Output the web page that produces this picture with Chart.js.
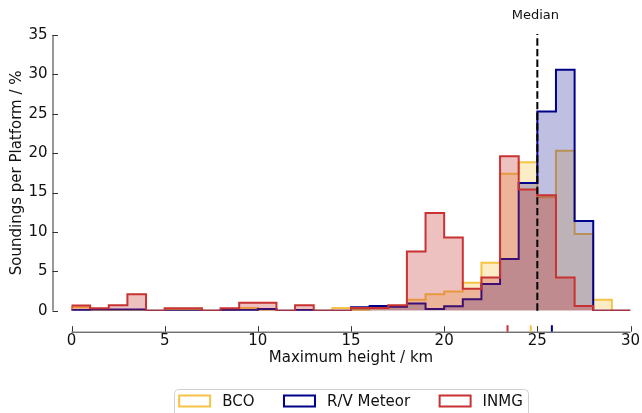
<!DOCTYPE html>
<html>
<head>
<meta charset="utf-8">
<script src="https://cdn.jsdelivr.net/npm/chart.js@4/dist/chart.umd.min.js"></script>
<style>
  html, body { margin: 0; padding: 0; background: #fff; }
  #wrap { width: 642px; height: 413px; }
</style>
</head>
<body>
<div id="wrap"><canvas id="hist"></canvas></div>
<script>
// bin left edges, km (1 km bins from 0 to 30)
var binEdges = [0,1,2,3,4,5,6,7,8,9,10,11,12,13,14,15,16,17,18,19,20,21,22,23,24,25,26,27,28,29];
var binEnd = 30;

// soundings per platform, %
var bco    = [0.45,0,0,0,0,0.1,0.1,0,0,0.35,0,0,0,0,0.35,0.1,0.3,0.6,1.4,2.1,2.45,3.55,6.1,17.4,18.85,14.4,20.3,9.75,1.4,0];
var meteor = [0.1,0.15,0.15,0.15,0,0,0,0,0.1,0.1,0.2,0,0.1,0,0,0.45,0.6,0.5,0.9,0.2,0.55,1.45,3.4,6.55,16.2,25.3,30.6,11.4,0,0];
var inmg   = [0.65,0.3,0.7,2.1,0,0.3,0.3,0,0.3,1.0,1.0,0,0.7,0,0,0.35,0.35,0.7,7.5,12.4,9.3,2.8,4.2,19.6,15.4,14.65,4.2,0.6,0,0];

var seriesNames = ['BCO', 'R/V Meteor', 'INMG'];
var seriesColors = ['rgb(245,195,70)', 'rgb(0,0,139)', 'rgb(200,50,50)'];
var seriesFills = ['rgba(245,195,70,0.3)', 'rgba(0,0,139,0.25)', 'rgba(200,50,50,0.3)'];

// medians
var overallMedian = 25;
var platformMedians = [24.65, 25.78, 23.4];

var xTicks = [0,5,10,15,20,25,30];
var yTicks = [0,5,10,15,20,25,30,35];

var FONT = "'DejaVu Sans', sans-serif";

function stepPoints(vals) {
  var pts = [{x: binEdges[0], y: 0}];
  for (var i = 0; i < vals.length; i++) pts.push({x: binEdges[i], y: vals[i]});
  pts.push({x: binEnd, y: 0});
  return pts;
}

var allSeries = [bco, meteor, inmg];
var datasets = allSeries.map(function (vals, i) {
  return {
    label: seriesNames[i],
    data: stepPoints(vals),
    stepped: true,
    borderColor: seriesColors[i],
    backgroundColor: seriesFills[i],
    borderWidth: 2,
    pointRadius: 0,
    fill: 'origin',
    order: 3 - i
  };
});

var decorations = {
  id: 'decorations',
  afterDatasetsDraw: function (chart) {
    var ctx = chart.ctx, a = chart.chartArea;
    var xs = chart.scales.x, ys = chart.scales.y;
    ctx.save();

    // median line + label
    var mx = xs.getPixelForValue(overallMedian);
    ctx.strokeStyle = '#000';
    ctx.lineWidth = 2;
    ctx.setLineDash([7.4, 3.2]);
    ctx.beginPath();
    ctx.moveTo(mx, ys.getPixelForValue(0));
    ctx.lineTo(mx, ys.getPixelForValue(35) - 1);
    ctx.stroke();
    ctx.setLineDash([]);
    ctx.fillStyle = '#111';
    ctx.font = '13px ' + FONT;
    ctx.textAlign = 'center';
    ctx.textBaseline = 'middle';
    ctx.fillText('Median', mx - 2, 16);

    // offset spines with inward ticks
    var axisY = a.bottom + 21;
    var spineX = a.left - 19;
    ctx.strokeStyle = '#333';
    ctx.lineWidth = 1;
    ctx.beginPath();
    ctx.moveTo(xs.getPixelForValue(0), axisY + 0.5);
    ctx.lineTo(xs.getPixelForValue(30), axisY + 0.5);
    xTicks.forEach(function (t) {
      var px = Math.round(xs.getPixelForValue(t)) + 0.5;
      ctx.moveTo(px, axisY);
      ctx.lineTo(px, axisY - 5.5);
    });
    ctx.moveTo(spineX + 0.5, ys.getPixelForValue(0));
    ctx.lineTo(spineX + 0.5, ys.getPixelForValue(35));
    yTicks.forEach(function (t) {
      var py = Math.round(ys.getPixelForValue(t)) + 0.5;
      ctx.moveTo(spineX, py);
      ctx.lineTo(spineX + 5.5, py);
    });
    ctx.stroke();

    // per-platform median marks on the x axis
    ctx.lineWidth = 2;
    platformMedians.forEach(function (m, i) {
      var px = xs.getPixelForValue(m);
      ctx.strokeStyle = seriesColors[i];
      ctx.beginPath();
      ctx.moveTo(px, axisY);
      ctx.lineTo(px, axisY - 6.5);
      ctx.stroke();
    });

    // legend below the axes
    ctx.font = '15px ' + FONT;
    var boxW = 31, boxH = 11, gapText = 12, gapItem = 29.5;
    var widths = seriesNames.map(function (n) { return ctx.measureText(n).width; });
    var total = 0;
    widths.forEach(function (w, i) { total += boxW + gapText + w + (i < widths.length - 1 ? gapItem : 0); });
    var cx = (a.left + a.right) / 2;
    var fx0 = cx - total / 2 - 5, fx1 = cx + total / 2 + 5.5, fy = 389.5;
    ctx.fillStyle = 'rgba(255,255,255,0.8)';
    ctx.strokeStyle = '#d0d0d0';
    ctx.lineWidth = 1;
    ctx.beginPath();
    ctx.roundRect(Math.round(fx0) + 0.5, fy, Math.round(fx1 - fx0), 40, 4);
    ctx.fill();
    ctx.stroke();
    var x = cx - total / 2;
    ctx.textAlign = 'left';
    ctx.textBaseline = 'middle';
    seriesNames.forEach(function (n, i) {
      ctx.fillStyle = '#fff';
      ctx.fillRect(x, 395.5, boxW, boxH);
      ctx.strokeStyle = seriesColors[i];
      ctx.lineWidth = 2;
      ctx.strokeRect(x, 395.5, boxW, boxH);
      ctx.fillStyle = '#111';
      ctx.fillText(n, x + boxW + gapText, 402);
      x += boxW + gapText + widths[i] + gapItem;
    });
    ctx.restore();
  }
};

var ctx = document.getElementById('hist').getContext('2d');
var chart = new Chart(ctx, {
  type: 'line',
  data: { datasets: datasets },
  options: {
    responsive: true,
    maintainAspectRatio: false,
    animation: false,
    layout: { padding: { top: 35, right: 11.5, left: 0, bottom: 0 } },
    plugins: {
      legend: { display: false },
      tooltip: { enabled: false }
    },
    scales: {
      x: {
        type: 'linear',
        min: 0,
        max: 30,
        afterBuildTicks: function (s) { s.ticks = xTicks.map(function (v) { return {value: v}; }); },
        afterFit: function (s) { s.height = 102.3; s.paddingLeft = 0; s.paddingRight = 0; },
        grid: { display: false, drawTicks: false },
        border: { display: false },
        ticks: { padding: 21, color: '#111', font: { family: FONT, size: 15 }, maxRotation: 0 },
        title: { display: true, text: 'Maximum height / km', color: '#111', font: { family: FONT, size: 15 }, padding: { top: 0, bottom: 46 } }
      },
      y: {
        min: 0,
        max: 35,
        afterBuildTicks: function (s) { s.ticks = yTicks.map(function (v) { return {value: v}; }); },
        afterFit: function (s) { s.width = 71.5; s.paddingTop = 0; s.paddingBottom = 0; },
        grid: { display: false, drawTicks: false },
        border: { display: false },
        ticks: { padding: 24, color: '#111', font: { family: FONT, size: 15 } },
        title: { display: true, text: 'Soundings per Platform / %', color: '#111', font: { family: FONT, size: 15 }, padding: { top: 8, bottom: 0 } }
      }
    }
  },
  plugins: [decorations]
});
</script>
</body>
</html>
